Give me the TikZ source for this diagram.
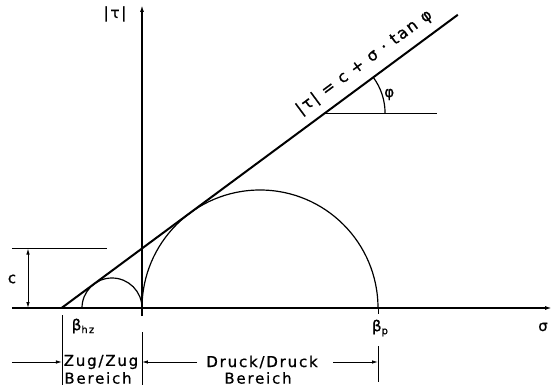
\documentclass[tikz,border=0pt]{standalone}
\usepackage{fontspec}
\setmainfont{DejaVu Sans}[LetterSpace=12, FakeBold=0.8]
\usetikzlibrary{arrows.meta, positioning, calc}
\newcommand{\lowidx}[1]{\raisebox{-3pt}{\fontsize{10}{10}\selectfont #1}}

\begin{document}
\begin{tikzpicture}[x=1pt, y=1pt,
      axis/.style={line width=1.5pt, -{Latex[length=7pt, width=4pt]}},
      circ/.style={line width=1.2pt},
      dim/.style={line width=0.9pt},
      dimarrow/.style={line width=0.9pt, -{Latex[length=6pt, width=3.5pt]}},
      lbl/.style={font=\fontsize{15}{17}\selectfont, inner sep=1pt}
    ]
      \useasboundingbox (-142,-78) rectangle (412,308);
      \coordinate (O) at (0,0);
      \coordinate (A) at (-80.45,0);
      \coordinate (Bhz) at (-60,0);
      \coordinate (Bp) at (236,0);

      % Axes
      \coordinate (Sl) at (-130,0);
      \coordinate (Sr) at (410,0);
      \coordinate (Tb) at (0,-8);
      \coordinate (Tt) at (0,303);
      \draw[axis] (Sl) -- (Sr);
      \draw[axis, line width=1.9pt] (Tb) -- (Tt);
      \node[lbl] (tau) at (-27,294) {|τ|};
      \node[lbl] (sigma) at (401,-19) {σ};

      % Mohr circles
      \draw[circ] (Bhz) arc[start angle=180, end angle=0, radius=30];
      \draw[circ] (O) arc[start angle=180, end angle=0, radius=118];
      \draw[dim] (Bp) -- ++(0,-6);
      \node[lbl] (bhz) at (-59,-18) {β\lowidx{hz}};
      \node[lbl] (bp) at (238,-20) {β\lowidx{p}};

      % Failure line
      \draw[line width=2pt] (A) -- ++(36.5:493) coordinate (E);
      \path (A) -- (E) node[pos=0.79, sloped, above=8pt, lbl, font=\fontsize{16}{18}\selectfont] (law) {|τ| = c + σ · tan φ};
      \path (A) -- ++(36.5:327.8) coordinate (P);
      \draw[dim] (P) -- ++(112,0) coordinate (H);
      \draw[line width=1.2pt] ($(P)+(60,0)$) arc[start angle=0, end angle=36.5, radius=60];
      \node[lbl, right=1pt] (phi) at ($(P)+(18:60)$) {φ};

      % Cohesion c
      \coordinate (Cl) at (-130,59.5);
      \coordinate (Cr) at (-35,59.5);
      \coordinate (Ca) at (-114,59.5);
      \coordinate (Cb) at (-114,0);
      \draw[dim] (Cl) -- (Cr);
      \draw[dim, {Latex[length=6pt, width=3.5pt]}-{Latex[length=6pt, width=3.5pt]}] (Cb) -- (Ca);
      \node[lbl] (c) at (-130,29) {c};

      % Ranges
      \foreach \n/\x/\a/\b in {L/-80/-7/-77, M/0/-24/-77, R/236/-38/-74} {
        \coordinate (\n-top) at (\x,\a);
        \coordinate (\n-bot) at (\x,\b);
        \coordinate (\n-mid) at (\x,-54);
        \draw[dim] (\n-top) -- (\n-bot);
      }
      \coordinate (Lin) at (-130,-54);
      \coordinate (Min) at (55,-54);
      \coordinate (Rin) at (191,-54);
      \draw[dimarrow] (Lin) -- (L-mid);
      \draw[dimarrow] (Min) -- (M-mid);
      \draw[dimarrow] (Rin) -- (R-mid);
      \node[lbl] (zug) at (-41,-54) {Zug/Zug};
      \node[lbl] (zugb) at (-44,-70) {Bereich};
      \node[lbl] (druck) at (120,-54) {Druck/Druck};
      \node[lbl] (druckb) at (116,-70) {Bereich};
    \end{tikzpicture}
\end{document}
